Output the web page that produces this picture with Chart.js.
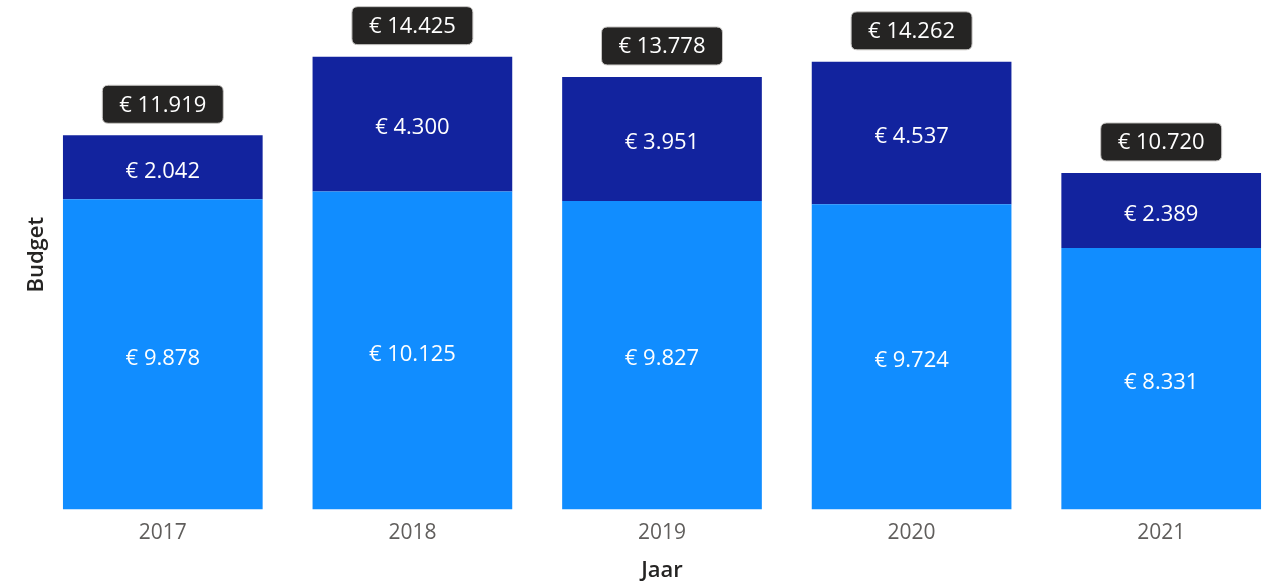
<!DOCTYPE html>
<html>
<head>
<meta charset="utf-8">
<script src="https://cdn.jsdelivr.net/npm/chart.js@4"></script>
<style>
  html, body { margin: 0; padding: 0; background: #fff; overflow: hidden; }
  #wrap { width: 1286px; height: 584px; }
</style>
</head>
<body>
<div id="wrap"><canvas id="budgetChart" width="1286" height="584"></canvas></div>
<script>
// Budget per jaar, split in two parts
const years = ['2017', '2018', '2019', '2020', '2021'];
const baseBudget = [9878, 10125, 9827, 9724, 8331];
const extraBudget = [2042, 4300, 3951, 4537, 2389];
const totals = [11919, 14425, 13778, 14262, 10720];

const FONT = '"Segoe UI", "Open Sans", "Noto Sans", sans-serif';

function euro(v) {
    return '€ ' + v.toLocaleString('nl-NL');
}

function roundRect(ctx, x, y, w, h, r) {
    ctx.beginPath();
    ctx.moveTo(x + r, y);
    ctx.lineTo(x + w - r, y);
    ctx.quadraticCurveTo(x + w, y, x + w, y + r);
    ctx.lineTo(x + w, y + h - r);
    ctx.quadraticCurveTo(x + w, y + h, x + w - r, y + h);
    ctx.lineTo(x + r, y + h);
    ctx.quadraticCurveTo(x, y + h, x, y + h - r);
    ctx.lineTo(x, y + r);
    ctx.quadraticCurveTo(x, y, x + r, y);
    ctx.closePath();
}

// Draws the value inside each segment and a dark total badge above each stack
const barLabels = {
    id: 'barLabels',
    afterDatasetsDraw(chart) {
        const ctx = chart.ctx;
        ctx.save();
        ctx.font = '22px ' + FONT;
        ctx.textAlign = 'center';
        ctx.textBaseline = 'middle';
        ctx.fillStyle = '#ffffff';
        chart.data.datasets.forEach((ds, di) => {
            chart.getDatasetMeta(di).data.forEach((bar, i) => {
                const p = bar.getProps(['x', 'y', 'base'], true);
                ctx.fillText(euro(ds.data[i]), p.x, (p.y + p.base) / 2 + 4);
            });
        });

        const top = chart.getDatasetMeta(chart.data.datasets.length - 1).data;
        top.forEach((bar, i) => {
            const p = bar.getProps(['x', 'y'], true);
            const text = euro(totals[i]);
            const w = ctx.measureText(text).width + 34;
            const h = 38;
            const bx = p.x - w / 2;
            const by = p.y - 12 - h;
            roundRect(ctx, bx, by, w, h, 6);
            ctx.fillStyle = '#252423';
            ctx.fill();
            ctx.strokeStyle = '#c8c6c4';
            ctx.lineWidth = 1;
            ctx.stroke();
            ctx.fillStyle = '#ffffff';
            ctx.fillText(text, p.x, by + h / 2 + 1);
        });
        ctx.restore();
    }
};

new Chart(document.getElementById('budgetChart'), {
    type: 'bar',
    data: {
        labels: years,
        datasets: [
            {
                label: 'Basis',
                data: baseBudget,
                backgroundColor: '#118DFF',
                categoryPercentage: 0.8,
                barPercentage: 1.0
            },
            {
                label: 'Extra',
                data: extraBudget,
                backgroundColor: '#12239E',
                categoryPercentage: 0.8,
                barPercentage: 1.0
            }
        ]
    },
    options: {
        responsive: false,
        animation: false,
        layout: { padding: { left: 0, top: 0, right: 0, bottom: 0 } },
        plugins: {
            legend: { display: false },
            tooltip: { enabled: false }
        },
        scales: {
            x: {
                stacked: true,
                grid: { display: false },
                border: { display: false },
                ticks: {
                    color: '#605E5C',
                    font: { family: FONT, size: 21 },
                    padding: 3
                },
                title: {
                    display: true,
                    text: 'Jaar',
                    color: '#252423',
                    font: { family: FONT, size: 22, weight: '600' },
                    padding: { top: 9, bottom: 0 }
                }
            },
            y: {
                stacked: true,
                min: 0,
                max: 16230,
                grid: { display: false },
                border: { display: false },
                ticks: { display: false },
                afterFit(scale) {
                    scale.width = 38;
                },
                title: {
                    display: true,
                    text: 'Budget',
                    color: '#252423',
                    font: { family: FONT, size: 22, weight: '600' },
                    padding: { top: 24, bottom: 0 }
                }
            }
        }
    },
    plugins: [barLabels]
});
</script>
</body>
</html>
